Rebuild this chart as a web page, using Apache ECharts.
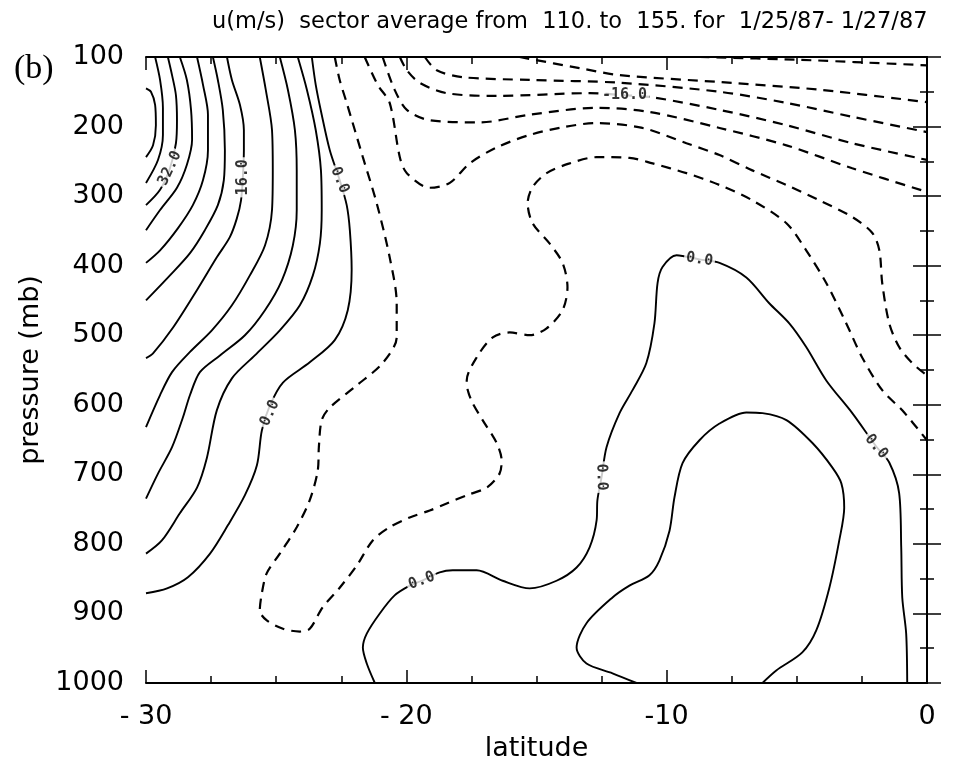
<!DOCTYPE html>
<html>
<head>
<meta charset="utf-8">
<script src="https://cdn.jsdelivr.net/npm/echarts/dist/echarts.min.js"></script>
<style>
  html, body { margin: 0; padding: 0; background: #ffffff; }
  #chart { width: 969px; height: 768px; }
</style>
</head>
<body>
<div id="chart"></div>
<script>
// Zonal wind u (m/s), sector average 110-155, 1/25/87 - 1/27/87.
// Each contour is a list of [latitude, pressure(mb)] points.
const latTicks = [-30, -20, -10, 0];
const presTicks = [100, 200, 300, 400, 500, 600, 700, 800, 900, 1000];

// westerly core near -30 (solid, positive)
const u40 = [[-30, 145], [-29.81, 150], [-29.65, 169], [-29.62, 198], [-29.73, 227], [-30, 244]];
const u36 = [[-29.65, 100], [-29.46, 133], [-29.35, 173], [-29.35, 212], [-29.54, 248], [-30, 281]];
const u32 = [[-29.16, 100], [-29.0, 126], [-28.85, 155], [-28.81, 191], [-28.85, 224], [-29.08, 260], [-29.46, 291], [-30, 313]];
const u28 = [[-28.70, 100], [-28.43, 133], [-28.27, 176], [-28.23, 219], [-28.43, 255], [-28.81, 288], [-29.46, 320], [-30, 349]];
const u24 = [[-28.04, 100], [-27.81, 140], [-27.62, 183], [-27.62, 234], [-27.81, 277], [-28.20, 313], [-28.77, 346], [-29.46, 378], [-30, 396]];
const u20 = [[-27.43, 100], [-27.24, 133], [-27.05, 176], [-26.97, 234], [-27.01, 277], [-27.24, 313], [-27.74, 349], [-28.31, 382], [-29.08, 414], [-30, 450]];
const u16 = [[-26.89, 100], [-26.70, 133], [-26.39, 169], [-26.24, 205], [-26.24, 234], [-26.28, 273], [-26.35, 306], [-26.51, 332], [-26.78, 359], [-27.28, 388], [-28.04, 435], [-28.96, 489], [-29.73, 526], [-30, 533]];
const u12 = [[-25.63, 100], [-25.40, 147], [-25.16, 205], [-25.13, 263], [-25.16, 320], [-25.43, 371], [-26.01, 414], [-26.70, 457], [-27.47, 493], [-28.31, 524], [-29.0, 553], [-29.46, 586], [-30, 632]];
const u8 = [[-24.86, 100], [-24.55, 147], [-24.28, 205], [-24.21, 263], [-24.21, 320], [-24.36, 371], [-24.78, 421], [-25.43, 464], [-26.20, 500], [-27.16, 529], [-27.93, 553], [-28.31, 586], [-28.58, 618], [-29.0, 661], [-29.54, 699], [-30, 735]];
const u4 = [[-24.17, 100], [-23.82, 147], [-23.48, 205], [-23.28, 263], [-23.25, 320], [-23.32, 368], [-23.59, 414], [-24.09, 457], [-24.86, 493], [-25.82, 529], [-26.70, 562], [-27.28, 608], [-27.66, 676], [-28.04, 719], [-28.70, 756], [-29.39, 795], [-30, 814]];
const u0West = [[-23.63, 100], [-23.48, 140], [-23.25, 183], [-22.94, 234], [-22.56, 277], [-22.29, 313], [-22.17, 349], [-22.10, 406], [-22.25, 464], [-22.75, 507], [-23.71, 539], [-24.74, 568], [-25.24, 601], [-25.55, 637], [-25.74, 687], [-26.20, 730], [-26.85, 773], [-27.54, 814], [-28.39, 848], [-29.19, 864], [-30, 871]];

// low-level westerlies east of -22 (solid)
const u0East = [[-21.21, 1000], [-21.52, 972], [-21.67, 949], [-21.52, 929], [-21.02, 900], [-20.45, 874], [-19.87, 860], [-19.41, 853], [-18.72, 841], [-18.22, 838], [-17.30, 838], [-16.30, 853], [-15.26, 864], [-14.23, 853], [-13.46, 834], [-12.96, 805], [-12.69, 766], [-12.66, 737], [-12.50, 704], [-12.31, 661], [-11.81, 612], [-11.31, 579], [-10.78, 540], [-10.47, 483], [-10.35, 425], [-10.16, 402], [-9.62, 385], [-8.74, 391], [-7.97, 396], [-6.94, 417], [-6.06, 454], [-5.29, 483], [-4.64, 517], [-3.87, 565], [-2.87, 612], [-1.95, 660], [-1.45, 683], [-1.07, 727], [-0.99, 805], [-0.95, 877], [-0.80, 929], [-0.76, 1000]];
const u4East = [[-11.16, 1000], [-12.08, 986], [-13.08, 972], [-13.46, 949], [-13.08, 914], [-12.08, 877], [-11.43, 860], [-10.66, 845], [-10.28, 824], [-9.89, 781], [-9.70, 733], [-9.39, 684], [-8.74, 651], [-7.97, 627], [-6.94, 611], [-6.32, 612], [-5.40, 622], [-4.40, 655], [-3.64, 690], [-3.29, 713], [-3.18, 748], [-3.37, 795], [-3.75, 863], [-4.25, 924], [-4.79, 956], [-5.79, 982], [-6.32, 1000]];

// easterlies (dashed, negative)
const uM4 = [[-22.75, 100], [-22.56, 133], [-22.29, 166], [-21.67, 244], [-21.14, 310], [-20.64, 388], [-20.37, 454], [-20.37, 503], [-20.91, 540], [-21.90, 572], [-22.94, 604], [-23.25, 622], [-23.36, 661], [-23.40, 694], [-23.71, 737], [-24.21, 776], [-24.86, 814], [-25.36, 842], [-25.55, 871], [-25.63, 896], [-25.36, 910], [-24.74, 922], [-24.09, 926], [-23.71, 922], [-23.21, 891], [-22.56, 863], [-21.90, 831], [-21.29, 795], [-20.64, 776], [-19.87, 762], [-19.10, 752], [-18.45, 742], [-17.68, 730], [-16.91, 719], [-16.42, 699], [-16.34, 680], [-16.53, 655], [-17.07, 622], [-17.45, 598], [-17.64, 579], [-17.68, 565], [-17.30, 532], [-16.68, 503], [-16.03, 496], [-15.26, 500], [-14.61, 490], [-14.00, 464], [-13.81, 431], [-14.00, 396], [-14.50, 368], [-15.15, 339], [-15.34, 310], [-15.15, 287], [-14.61, 267], [-13.73, 253], [-12.69, 244], [-11.43, 245], [-10.54, 253], [-9.24, 267], [-7.97, 284], [-6.71, 306], [-5.40, 339], [-4.64, 378], [-3.87, 425], [-3.10, 483], [-2.49, 532], [-1.72, 579], [-0.95, 608], [0, 651]];
const uM8 = [[-21.60, 100], [-21.10, 140], [-20.64, 166], [-20.25, 244], [-19.98, 267], [-19.10, 288], [-18.33, 281], [-17.57, 253], [-16.53, 230], [-15.26, 212], [-14.00, 201], [-12.69, 195], [-10.93, 202], [-9.24, 224], [-7.97, 241], [-6.71, 263], [-5.40, 284], [-4.14, 306], [-2.87, 330], [-2.10, 353], [-1.83, 378], [-1.72, 425], [-1.45, 483], [-1.07, 517], [-0.57, 540], [0, 558]];
const uM12 = [[-20.91, 100], [-20.45, 147], [-19.98, 176], [-19.10, 191], [-17.18, 194], [-15.26, 183], [-12.69, 173], [-10.66, 179], [-7.97, 202], [-5.40, 227], [-2.87, 260], [0, 294]];
const uM16 = [[-20.25, 100], [-19.98, 119], [-19.49, 137], [-18.45, 152], [-16.53, 156], [-12.96, 152], [-11.62, 155], [-10.54, 158], [-7.97, 176], [-5.40, 198], [-2.87, 224], [0, 248]];
const uM20 = [[-19.29, 100], [-18.83, 119], [-17.84, 129], [-15.26, 133], [-11.81, 137], [-7.97, 150], [-5.40, 166], [-2.87, 186], [0, 208]];
const uM24 = [[-15.65, 100], [-13.35, 116], [-11.81, 126], [-7.97, 136], [-4.14, 147], [0, 165]];
const uM28 = [[-8.74, 100], [-4.90, 104], [0, 112]];

const contours = [
  { level: 40, pts: u40 }, { level: 36, pts: u36 }, { level: 32, pts: u32 },
  { level: 28, pts: u28 }, { level: 24, pts: u24 }, { level: 20, pts: u20 },
  { level: 16, pts: u16 }, { level: 12, pts: u12 }, { level: 8, pts: u8 },
  { level: 4, pts: u4 }, { level: 0, pts: u0West }, { level: 0, pts: u0East },
  { level: 4, pts: u4East }, { level: -4, pts: uM4 }, { level: -8, pts: uM8 },
  { level: -12, pts: uM12 }, { level: -16, pts: uM16 }, { level: -20, pts: uM20 },
  { level: -24, pts: uM24 }, { level: -28, pts: uM28 }
];

// contour value labels: level and anchor [lat, p]
const labelLevels = [32, 16, 0, 0, 0, 0, 0, 0, -16];
const labelAnchors = [[-29.08, 260], [-26.28, 273], [-22.56, 277], [-25.24, 612], [-19.41, 853], [-12.50, 704], [-8.74, 391], [-1.95, 660], [-11.62, 155]];
const labelAngles = [65, 90, -68, 65, 20, -88, -8, -50, 0];

const series = contours.map(function (c) {
  return {
    type: 'line',
    data: c.pts,
    showSymbol: false,
    smooth: 0.3,
    silent: true,
    animation: false,
    clip: true,
    z: 2,
    lineStyle: {
      color: '#000',
      width: c.level < 0 ? 2.2 : 1.9,
      type: c.level < 0 ? [10, 7] : 'solid'
    }
  };
});

series.push({
  type: 'scatter',
  symbolSize: 0,
  silent: true,
  animation: false,
  z: 5,
  data: labelAnchors.map(function (a, i) {
    return {
      value: a,
      label: {
        show: true,
        position: 'inside',
        rotate: labelAngles[i],
        formatter: labelLevels[i].toFixed(1),
        fontFamily: 'DejaVu Sans Mono',
        fontWeight: 'bold',
        fontSize: 15,
        color: '#000',
        backgroundColor: '#fff',
        padding: [0, 2]
      }
    };
  })
});

const tickFont = { fontFamily: 'DejaVu Sans', fontSize: 27, color: '#000' };
const frameLine = { show: true, lineStyle: { color: '#000', width: 2 } };

const chart = echarts.init(document.getElementById('chart'), null, { renderer: 'canvas' });
chart.setOption({
  backgroundColor: '#fff',
  animation: false,
  title: {
    text: 'u(m/s)  sector average from  110. to  155. for  1/25/87- 1/27/87',
    left: 207,
    top: 6,
    textStyle: { fontFamily: 'DejaVu Sans', fontSize: 22.5, fontWeight: 'normal', color: '#000' }
  },
  graphic: [{
    type: 'text',
    left: 14,
    top: 52,
    style: { text: '(b)', font: '34px "Liberation Serif"', fill: '#000' }
  }],
  grid: { left: 146, top: 57, width: 781, height: 626, containLabel: false },
  xAxis: [{
    type: 'value', min: latTicks[0], max: latTicks[latTicks.length - 1], interval: 10,
    position: 'bottom',
    axisLine: frameLine,
    axisTick: { show: true, inside: true, length: 13, lineStyle: { color: '#000', width: 1.5 } },
    minorTick: { show: true, splitNumber: 4, length: 7, lineStyle: { color: '#000', width: 1.5 } },
    splitLine: { show: false },
    axisLabel: Object.assign({
      margin: 20,
      formatter: function (v) { return v < -10 ? '- ' + Math.abs(v) : String(v); }
    }, tickFont),
    name: 'latitude', nameLocation: 'middle', nameGap: 52,
    nameTextStyle: { fontFamily: 'DejaVu Sans', fontSize: 27, color: '#000' }
  }, {
    type: 'value', min: latTicks[0], max: latTicks[latTicks.length - 1], interval: 10,
    position: 'top',
    axisLine: frameLine,
    axisTick: { show: true, inside: true, length: 13, lineStyle: { color: '#000', width: 1.5 } },
    minorTick: { show: true, splitNumber: 4, length: 7, lineStyle: { color: '#000', width: 1.5 } },
    splitLine: { show: false },
    axisLabel: { show: false }
  }],
  yAxis: [{
    type: 'value', min: presTicks[0], max: presTicks[presTicks.length - 1], interval: 100,
    inverse: true, position: 'left',
    axisLine: frameLine,
    axisTick: { show: true, inside: true, length: 14, lineStyle: { color: '#000', width: 1.5 } },
    minorTick: { show: true, splitNumber: 2, length: 7, lineStyle: { color: '#000', width: 1.5 } },
    splitLine: { show: false },
    axisLabel: Object.assign({ margin: 22, formatter: function (v) { return String(v); } }, tickFont),
    name: 'pressure (mb)', nameLocation: 'middle', nameGap: 98, nameRotate: 90,
    nameTextStyle: { fontFamily: 'DejaVu Sans', fontSize: 27, color: '#000' }
  }, {
    type: 'value', min: presTicks[0], max: presTicks[presTicks.length - 1], interval: 100,
    inverse: true, position: 'right',
    axisLine: frameLine,
    axisTick: { show: true, inside: true, length: 14, lineStyle: { color: '#000', width: 1.5 } },
    minorTick: { show: true, splitNumber: 2, length: 7, lineStyle: { color: '#000', width: 1.5 } },
    splitLine: { show: false },
    axisLabel: { show: false }
  }],
  series: series
});
</script>
</body>
</html>
